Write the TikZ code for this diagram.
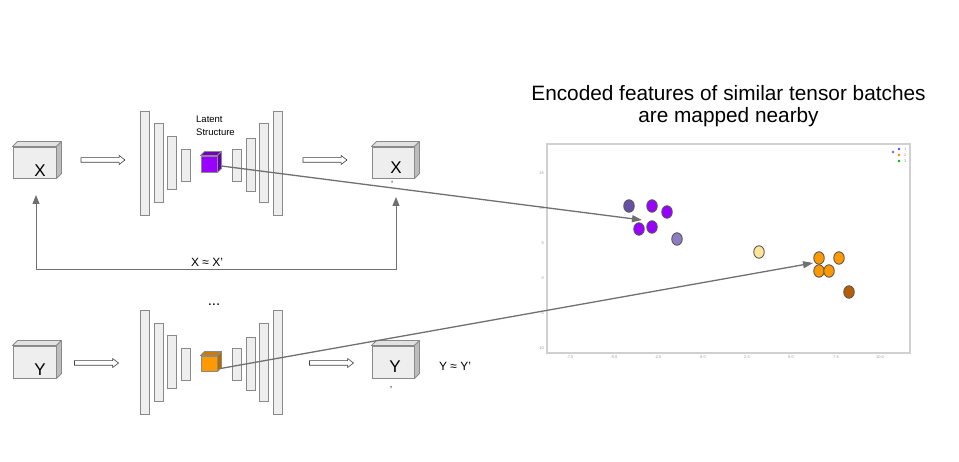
\documentclass[tikz,border=0pt]{standalone}
\usepackage{fontspec}
\setmainfont{Liberation Sans}
\usetikzlibrary{shapes.arrows,shapes.geometric,arrows.meta}
\definecolor{boxfill}{HTML}{EEEEEE}
\definecolor{boxline}{HTML}{8A8A8A}
\definecolor{sidegray}{HTML}{BDBDBD}
\definecolor{topgray}{HTML}{E2E2E2}
\definecolor{arrowgray}{HTML}{707070}
\definecolor{latpurple}{HTML}{9900FF}
\definecolor{latorange}{HTML}{FF9900}
\definecolor{dkpurple}{HTML}{674EA7}
\definecolor{ltpurple}{HTML}{8E7CC3}
\definecolor{ltyellow}{HTML}{FFE599}
\definecolor{brownish}{HTML}{B45F06}
\definecolor{framegray}{HTML}{D0D0D0}
\definecolor{ticktext}{HTML}{9A9A9A}
\newcommand\cubeparts[4]{% node, depth, top colour, side colour
  \draw[cubeedge, fill=#3] (#1.north west) -- ++(#2,-#2) -- ([shift={(#2,-#2)}]#1.north east) -- (#1.north east) -- cycle;
  \draw[cubeedge, fill=#4] (#1.north east) -- ++(#2,-#2) -- ([shift={(#2,-#2)}]#1.south east) -- (#1.south east) -- cycle;
}
\begin{document}
\begin{tikzpicture}[x=1pt,y=-1pt,
  front/.style={draw=boxline, fill=boxfill, line width=0.9pt, inner sep=0pt, rectangle},
  cubeedge/.style={draw=boxline, line width=0.9pt, line join=round},
  bar/.style={draw=boxline, fill=boxfill, line width=0.9pt, inner sep=0pt, minimum width=9pt, rectangle},
  harrow/.style={single arrow, draw=black!75, fill=white, line width=0.6pt, minimum height=44pt, inner sep=2pt, single arrow head extend=2.2pt, single arrow tip angle=75},
  bigtxt/.style={font=\fontsize{17}{20}\selectfont, inner sep=0pt, anchor=base},
  smalltxt/.style={font=\fontsize{12}{14}\selectfont, inner sep=0pt, anchor=base},
  link/.style={draw=arrowgray, line width=1.3pt, -{Triangle[length=10pt,width=7pt]}},
  loop/.style={draw=arrowgray, line width=1pt},
  dot/.style={ellipse, draw=black!65, line width=0.9pt, minimum width=10.5pt, minimum height=12.5pt, inner sep=0pt},
  tick/.style={font=\fontsize{4}{5}\selectfont, text=ticktext, inner sep=0pt},
  legdot/.style={circle, inner sep=0pt, minimum size=2.6pt}
]
\useasboundingbox (0,0) rectangle (959,462);

% ---------- top row ----------
\node[front, minimum width=43pt, minimum height=31pt] (X) at (34.5,162.5) {};
\cubeparts{X}{5}{topgray}{sidegray}
\node[bigtxt] (Xl) at (40,177) {X};

\node[harrow] (a1) at (101.5,160) {};

\node[bar, minimum height=104pt] (e1) at (144.5,163) {};
\node[bar, minimum height=79pt]  (e2) at (158.5,162.5) {};
\node[bar, minimum height=53pt]  (e3) at (171.5,162.5) {};
\node[bar, minimum height=32pt]  (e4) at (185.5,165) {};
\node[front, fill=latpurple, minimum width=16pt, minimum height=16pt] (P) at (209,164) {};
\cubeparts{P}{4}{latpurple!75!black}{latpurple!65!black}
\node[bar, minimum height=32pt]  (e5) at (236.5,165) {};
\node[bar, minimum height=53pt]  (e6) at (250.5,164.5) {};
\node[bar, minimum height=79pt]  (e7) at (263.5,162.5) {};
\node[bar, minimum height=104pt] (e8) at (277.5,163) {};

\node[font=\fontsize{9.5}{13}\selectfont, inner sep=0pt, anchor=base west] (lat1) at (196,123) {Latent};
\node[font=\fontsize{9.5}{13}\selectfont, inner sep=0pt, anchor=base west] (lat2) at (196,136) {Structure};

\node[harrow] (a2) at (323.5,160) {};

\node[front, minimum width=42pt, minimum height=31pt] (Xp) at (393,162.5) {};
\cubeparts{Xp}{5}{topgray}{sidegray}
\node[bigtxt] (Xpl) at (396,174) {X};
\node[font=\fontsize{9}{10}\selectfont, inner sep=0pt, anchor=base] (Xpq) at (392,188) {'};

% feedback loop
\coordinate (fb) at (216,270);
\coordinate (xa) at (36,195);
\coordinate (xb) at (396,197);
\draw[loop, -{Triangle[length=9pt,width=7pt]}] (fb) -| (xa);
\draw[loop, -{Triangle[length=9pt,width=7pt]}] (fb) -| (xb);
\node[smalltxt] (approxX) at (207,267) {X ≈ X'};

% ---------- bottom row ----------
\node[font=\fontsize{15}{16}\selectfont, inner sep=0pt, anchor=base] (dots) at (214,306) {...};

\node[front, minimum width=43pt, minimum height=32pt] (Y) at (34.5,362) {};
\cubeparts{Y}{5}{topgray}{sidegray}
\node[bigtxt] (Yl) at (40,376) {Y};

\node[harrow] (a3) at (95,363) {};

\node[bar, minimum height=104pt] (f1) at (144.5,362) {};
\node[bar, minimum height=78pt]  (f2) at (158.5,362) {};
\node[bar, minimum height=53pt]  (f3) at (171.5,361.5) {};
\node[bar, minimum height=32pt]  (f4) at (185.5,364) {};
\node[front, fill=latorange, minimum width=16pt, minimum height=15pt] (O) at (209,363.5) {};
\cubeparts{O}{4}{latorange!80!black}{latorange!70!black}
\node[bar, minimum height=32pt]  (f5) at (236.5,364) {};
\node[bar, minimum height=53pt]  (f6) at (250.5,363.5) {};
\node[bar, minimum height=78pt]  (f7) at (263.5,362) {};
\node[bar, minimum height=104pt] (f8) at (277.5,362) {};

\node[harrow] (a4) at (330,363) {};

\node[front, minimum width=42pt, minimum height=32pt] (Yp) at (393,362) {};
\cubeparts{Yp}{5}{topgray}{sidegray}
\node[bigtxt] (Ypl) at (395,373) {Y};
\node[font=\fontsize{9}{10}\selectfont, inner sep=0pt, anchor=base] (Ypq) at (391,388) {,};
\node[smalltxt] (approxY) at (455,371) {Y ≈ Y'};

% ---------- title ----------
\node[font=\fontsize{20.8}{24}\selectfont, inner sep=0pt, anchor=base] (t1) at (728.5,101) {Encoded features of similar tensor batches};
\node[font=\fontsize{20.8}{24}\selectfont, inner sep=0pt, anchor=base] (t2) at (728.5,123) {are mapped nearby};

% ---------- plot ----------
\node[draw=framegray, line width=1.2pt, minimum width=363pt, minimum height=209pt, inner sep=0pt] (plot) at (728.5,248.5) {};
\foreach \xx/\lab in {570/-7.5,614/-5.0,658/-2.5,703/0.0,747/2.5,791/5.0,836/7.5,880/10.0}
  \node[tick] at (\xx,357.5) {\lab};
\foreach \yy/\lab in {173/15,208/10,243/5,278/0,313/-5,348/-10}
  \node[tick, anchor=east] at (544,\yy) {\lab};

\node[dot, fill=dkpurple]  (d1) at (629,206) {};
\node[dot, fill=latpurple] (d2) at (652,206) {};
\node[dot, fill=latpurple] (d3) at (667,212) {};
\node[dot, fill=latpurple] (d4) at (639,229) {};
\node[dot, fill=latpurple] (d5) at (652,227) {};
\node[dot, fill=ltpurple]  (d6) at (677,239) {};
\node[dot, fill=ltyellow]  (d7) at (759,252) {};
\node[dot, fill=latorange] (d8) at (819,258) {};
\node[dot, fill=latorange] (d9) at (839,258) {};
\node[dot, fill=latorange] (d10) at (819,271) {};
\node[dot, fill=latorange] (d11) at (829,271) {};
\node[dot, fill=brownish]  (d12) at (849,292) {};

% legend
\node[legdot, fill=blue!60] (l0) at (893,152) {};
\node[legdot, fill=blue!70] (l1) at (899,149) {};
\node[legdot, fill=orange] (l2) at (899,155) {};
\node[legdot, fill=green!70!black] (l3) at (899,161) {};
\node[tick, anchor=west] (lt1) at (904,149) {1};
\node[tick, anchor=west] (lt2) at (904,155) {2};
\node[tick, anchor=west] (lt3) at (904,161) {3};

% ---------- links from latent cubes ----------
\coordinate (tp) at (642,220);
\coordinate (tq) at (813,263);
\draw[link] ([shift={(4,2)}]P.east) -- (tp);
\draw[link] ([shift={(3,5)}]O.east) -- (tq);
\end{tikzpicture}
\end{document}
